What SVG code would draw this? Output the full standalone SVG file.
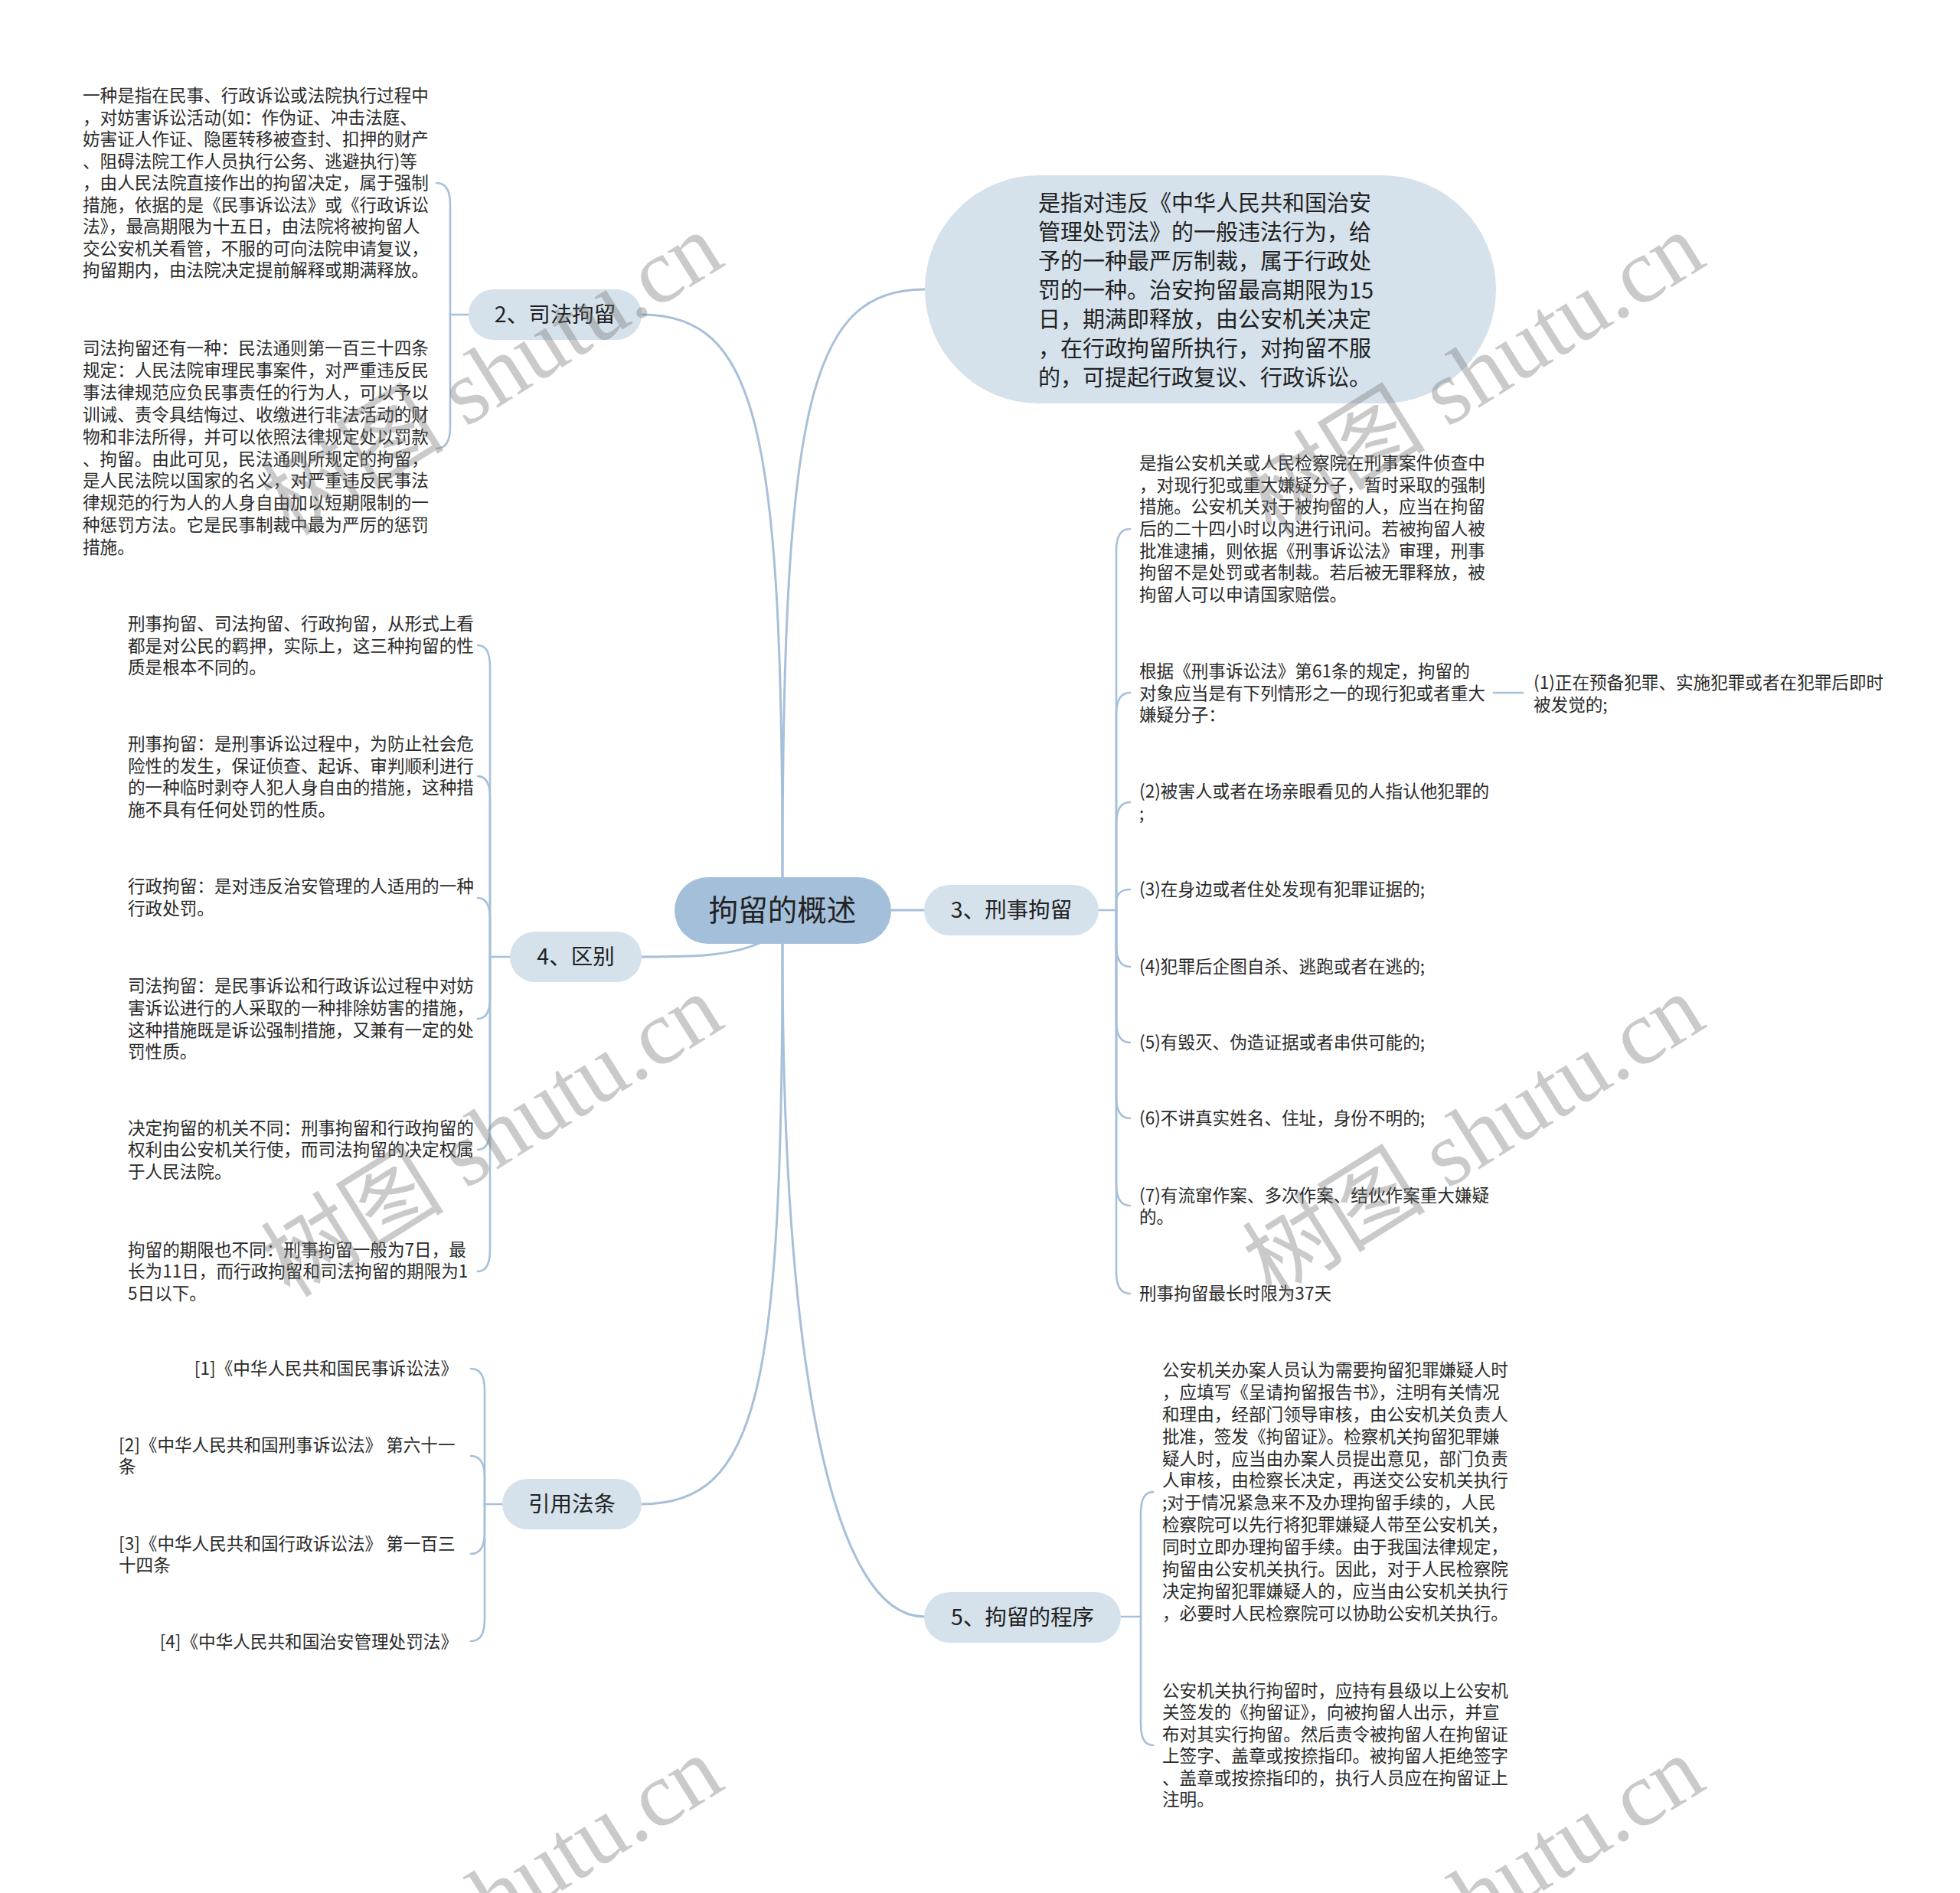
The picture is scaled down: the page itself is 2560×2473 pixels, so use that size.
<svg xmlns="http://www.w3.org/2000/svg" width="2560" height="2473" viewBox="0 0 2560 2473">
<style>
.c{fill:none;stroke:#a7c0d9;stroke-width:3;stroke-linecap:round}
.b{fill:none;stroke:#a7c0d9;stroke-width:2.6;stroke-linecap:round}
.t{font-family:"Noto Sans CJK SC","Noto Sans",sans-serif;font-size:22.6px;fill:#2a2a2a}
.n{font-family:"Noto Sans CJK SC","Noto Sans",sans-serif;font-size:28.5px;fill:#222;text-anchor:middle}
.sub{fill:#d5e1eb}
.wm{font-family:"Liberation Serif","Noto Sans CJK SC",serif;font-size:120px;fill:#777;opacity:.38;text-anchor:end}
</style>
<rect width="2560" height="2473" fill="#ffffff"/>
<g id="connectors">
<path class="c" d="M1022,1146 C1022,520 1060,378 1208,378"/>
<path class="c" d="M1022,1146 C1022,560 990,411 838,411"/>
<path class="c" d="M1164,1189 H1207"/>
<path class="c" d="M1000,1228 C960,1250 900,1250 838,1250"/>
<path class="c" d="M1022,1233 C1022,1820 990,1965 838,1965"/>
<path class="c" d="M1022,1233 C1022,1800 1090,2112 1207,2112"/>
<path class="b" d="M612,411 H588"/>
<path class="b" d="M588,411 V267 C588,249 583,239 570,239"/>
<path class="b" d="M588,411 V558 C588,576 583,586 570,586"/>
<path class="b" d="M666,1250 H640"/>
<path class="b" d="M640,1250 V871 C640,853 635,843 624,843"/>
<path class="b" d="M640,1250 V1042 C640,1024 635,1014 624,1014"/>
<path class="b" d="M640,1250 V1201 C640,1183 635,1173 624,1173"/>
<path class="b" d="M640,1250 V1303 C640,1321 635,1331 624,1331"/>
<path class="b" d="M640,1250 V1474 C640,1492 635,1502 624,1502"/>
<path class="b" d="M640,1250 V1633 C640,1651 635,1661 624,1661"/>
<path class="b" d="M656,1965 H633"/>
<path class="b" d="M633,1965 V1816 C633,1798 628,1788 615,1788"/>
<path class="b" d="M633,1965 V1930 C633,1912 628,1902 615,1902"/>
<path class="b" d="M633,1965 V2002 C633,2020 628,2030 615,2030"/>
<path class="b" d="M633,1965 V2116 C633,2134 628,2144 615,2144"/>
<path class="b" d="M1435,1189 H1458"/>
<path class="b" d="M1458,1189 V719 C1458,701 1463,691 1476,691"/>
<path class="b" d="M1458,1189 V933 C1458,915 1463,905 1476,905"/>
<path class="b" d="M1458,1189 V1076 C1458,1058 1463,1048 1476,1048"/>
<path class="b" d="M1458,1189 V1180 C1458,1168 1463,1162 1476,1162"/>
<path class="b" d="M1458,1189 V1235 C1458,1253 1463,1263 1476,1263"/>
<path class="b" d="M1458,1189 V1334 C1458,1352 1463,1362 1476,1362"/>
<path class="b" d="M1458,1189 V1433 C1458,1451 1463,1461 1476,1461"/>
<path class="b" d="M1458,1189 V1547 C1458,1565 1463,1575 1476,1575"/>
<path class="b" d="M1458,1189 V1662 C1458,1680 1463,1690 1476,1690"/>
<path class="b" d="M1951,905 H1989"/>
<path class="b" d="M1464,2112 H1490"/>
<path class="b" d="M1490,2112 V1977 C1490,1959 1495,1949 1506,1949"/>
<path class="b" d="M1490,2112 V2252 C1490,2270 1495,2280 1506,2280"/>
</g>
<g id="root">
<rect x="881" y="1146" width="283" height="87" rx="43.5" fill="#a4bfda"/>
<text class="n" x="1022" y="1203" style="font-size:38.5px">拘留的概述</text>
</g>
<g id="n1">
<rect class="sub" x="1208" y="229" width="746" height="298" rx="149"/>
<text class="t" style="font-size:29px;fill:#222">
<tspan x="1356" y="276">是指对违反《中华人民共和国治安</tspan>
<tspan x="1356" y="314">管理处罚法》的一般违法行为，给</tspan>
<tspan x="1356" y="352">予的一种最严厉制裁，属于行政处</tspan>
<tspan x="1356" y="390">罚的一种。治安拘留最高期限为15</tspan>
<tspan x="1356" y="428">日，期满即释放，由公安机关决定</tspan>
<tspan x="1356" y="466">，在行政拘留所执行，对拘留不服</tspan>
<tspan x="1356" y="504">的，可提起行政复议、行政诉讼。</tspan>
</text>
</g>
<g id="n2">
<rect class="sub" x="612" y="378" width="226" height="66" rx="33"/>
<text class="n" x="725" y="421">2、司法拘留</text>
</g>
<g id="n2a">
<text class="t">
<tspan x="108" y="133">一种是指在民事、行政诉讼或法院执行过程中</tspan>
<tspan x="108" y="161.5">，对妨害诉讼活动(如：作伪证、冲击法庭、</tspan>
<tspan x="108" y="190">妨害证人作证、隐匿转移被查封、扣押的财产</tspan>
<tspan x="108" y="218.5">、阻碍法院工作人员执行公务、逃避执行)等</tspan>
<tspan x="108" y="247">，由人民法院直接作出的拘留决定，属于强制</tspan>
<tspan x="108" y="275.5">措施，依据的是《民事诉讼法》或《行政诉讼</tspan>
<tspan x="108" y="304">法》，最高期限为十五日，由法院将被拘留人</tspan>
<tspan x="108" y="332.5">交公安机关看管，不服的可向法院申请复议，</tspan>
<tspan x="108" y="361">拘留期内，由法院决定提前解释或期满释放。</tspan>
</text>
</g>
<g id="n2b">
<text class="t">
<tspan x="108" y="463">司法拘留还有一种：民法通则第一百三十四条</tspan>
<tspan x="108" y="492">规定：人民法院审理民事案件，对严重违反民</tspan>
<tspan x="108" y="521">事法律规范应负民事责任的行为人，可以予以</tspan>
<tspan x="108" y="550">训诫、责令具结悔过、收缴进行非法活动的财</tspan>
<tspan x="108" y="579">物和非法所得，并可以依照法律规定处以罚款</tspan>
<tspan x="108" y="608">、拘留。由此可见，民法通则所规定的拘留，</tspan>
<tspan x="108" y="636">是人民法院以国家的名义，对严重违反民事法</tspan>
<tspan x="108" y="665">律规范的行为人的人身自由加以短期限制的一</tspan>
<tspan x="108" y="694">种惩罚方法。它是民事制裁中最为严厉的惩罚</tspan>
<tspan x="108" y="723">措施。</tspan>
</text>
</g>
<g id="n3">
<rect class="sub" x="1207" y="1156" width="228" height="66" rx="33"/>
<text class="n" x="1321" y="1199">3、刑事拘留</text>
</g>
<g id="n3a">
<text class="t">
<tspan x="1488" y="613">是指公安机关或人民检察院在刑事案件侦查中</tspan>
<tspan x="1488" y="642">，对现行犯或重大嫌疑分子，暂时采取的强制</tspan>
<tspan x="1488" y="670">措施。公安机关对于被拘留的人，应当在拘留</tspan>
<tspan x="1488" y="699">后的二十四小时以内进行讯问。若被拘留人被</tspan>
<tspan x="1488" y="728">批准逮捕，则依据《刑事诉讼法》审理，刑事</tspan>
<tspan x="1488" y="756">拘留不是处罚或者制裁。若后被无罪释放，被</tspan>
<tspan x="1488" y="785">拘留人可以申请国家赔偿。</tspan>
</text>
</g>
<g id="n3b">
<text class="t">
<tspan x="1488" y="885">根据《刑事诉讼法》第61条的规定，拘留的</tspan>
<tspan x="1488" y="913.5">对象应当是有下列情形之一的现行犯或者重大</tspan>
<tspan x="1488" y="942">嫌疑分子：</tspan>
</text>
</g>
<g id="n3b1">
<text class="t">
<tspan x="2003" y="900">(1)正在预备犯罪、实施犯罪或者在犯罪后即时</tspan>
<tspan x="2003" y="929">被发觉的;</tspan>
</text>
</g>
<g id="n3c">
<text class="t"><tspan x="1488" y="1042">(2)被害人或者在场亲眼看见的人指认他犯罪的</tspan><tspan x="1488" y="1071">;</tspan></text>
</g>
<g id="n3d"><text class="t" x="1488" y="1170">(3)在身边或者住处发现有犯罪证据的;</text></g>
<g id="n3e"><text class="t" x="1488" y="1271">(4)犯罪后企图自杀、逃跑或者在逃的;</text></g>
<g id="n3f"><text class="t" x="1488" y="1370">(5)有毁灭、伪造证据或者串供可能的;</text></g>
<g id="n3g"><text class="t" x="1488" y="1469">(6)不讲真实姓名、住址，身份不明的;</text></g>
<g id="n3h">
<text class="t"><tspan x="1488" y="1570">(7)有流窜作案、多次作案、结伙作案重大嫌疑</tspan><tspan x="1488" y="1598">的。</tspan></text>
</g>
<g id="n3i"><text class="t" x="1488" y="1698">刑事拘留最长时限为37天</text></g>
<g id="n4">
<rect class="sub" x="666" y="1217" width="172" height="66" rx="33"/>
<text class="n" x="752" y="1260">4、区别</text>
</g>
<g id="n4a">
<text class="t">
<tspan x="167" y="823">刑事拘留、司法拘留、行政拘留，从形式上看</tspan>
<tspan x="167" y="851.5">都是对公民的羁押，实际上，这三种拘留的性</tspan>
<tspan x="167" y="880">质是根本不同的。</tspan>
</text>
</g>
<g id="n4b">
<text class="t">
<tspan x="167" y="980">刑事拘留：是刑事诉讼过程中，为防止社会危</tspan>
<tspan x="167" y="1008.5">险性的发生，保证侦查、起诉、审判顺利进行</tspan>
<tspan x="167" y="1037">的一种临时剥夺人犯人身自由的措施，这种措</tspan>
<tspan x="167" y="1065.5">施不具有任何处罚的性质。</tspan>
</text>
</g>
<g id="n4c">
<text class="t">
<tspan x="167" y="1166">行政拘留：是对违反治安管理的人适用的一种</tspan>
<tspan x="167" y="1195">行政处罚。</tspan>
</text>
</g>
<g id="n4d">
<text class="t">
<tspan x="167" y="1296">司法拘留：是民事诉讼和行政诉讼过程中对妨</tspan>
<tspan x="167" y="1325">害诉讼进行的人采取的一种排除妨害的措施，</tspan>
<tspan x="167" y="1354">这种措施既是诉讼强制措施，又兼有一定的处</tspan>
<tspan x="167" y="1382">罚性质。</tspan>
</text>
</g>
<g id="n4e">
<text class="t">
<tspan x="167" y="1482">决定拘留的机关不同：刑事拘留和行政拘留的</tspan>
<tspan x="167" y="1510">权利由公安机关行使，而司法拘留的决定权属</tspan>
<tspan x="167" y="1539">于人民法院。</tspan>
</text>
</g>
<g id="n4f">
<text class="t">
<tspan x="167" y="1641">拘留的期限也不同：刑事拘留一般为7日，最</tspan>
<tspan x="167" y="1669">长为11日，而行政拘留和司法拘留的期限为1</tspan>
<tspan x="167" y="1698">5日以下。</tspan>
</text>
</g>
<g id="n6">
<rect class="sub" x="656" y="1932" width="182" height="66" rx="33"/>
<text class="n" x="747" y="1975">引用法条</text>
</g>
<g id="n6a"><text class="t" x="598" y="1796" text-anchor="end">[1]《中华人民共和国民事诉讼法》</text></g>
<g id="n6b"><text class="t"><tspan x="155" y="1896">[2]《中华人民共和国刑事诉讼法》 第六十一</tspan><tspan x="155" y="1924">条</tspan></text></g>
<g id="n6c"><text class="t"><tspan x="155" y="2025">[3]《中华人民共和国行政诉讼法》 第一百三</tspan><tspan x="155" y="2053">十四条</tspan></text></g>
<g id="n6d"><text class="t" x="598" y="2153" text-anchor="end">[4]《中华人民共和国治安管理处罚法》</text></g>
<g id="n5">
<rect class="sub" x="1207" y="2080" width="257" height="66" rx="33"/>
<text class="n" x="1335.5" y="2123">5、拘留的程序</text>
</g>
<g id="n5a">
<text class="t">
<tspan x="1518" y="1798">公安机关办案人员认为需要拘留犯罪嫌疑人时</tspan>
<tspan x="1518" y="1827">，应填写《呈请拘留报告书》，注明有关情况</tspan>
<tspan x="1518" y="1856">和理由，经部门领导审核，由公安机关负责人</tspan>
<tspan x="1518" y="1885">批准，签发《拘留证》。检察机关拘留犯罪嫌</tspan>
<tspan x="1518" y="1914">疑人时，应当由办案人员提出意见，部门负责</tspan>
<tspan x="1518" y="1942">人审核，由检察长决定，再送交公安机关执行</tspan>
<tspan x="1518" y="1971">;对于情况紧急来不及办理拘留手续的，人民</tspan>
<tspan x="1518" y="2000">检察院可以先行将犯罪嫌疑人带至公安机关，</tspan>
<tspan x="1518" y="2029">同时立即办理拘留手续。由于我国法律规定，</tspan>
<tspan x="1518" y="2058">拘留由公安机关执行。因此，对于人民检察院</tspan>
<tspan x="1518" y="2087">决定拘留犯罪嫌疑人的，应当由公安机关执行</tspan>
<tspan x="1518" y="2116">，必要时人民检察院可以协助公安机关执行。</tspan>
</text>
</g>
<g id="n5b">
<text class="t">
<tspan x="1518" y="2217">公安机关执行拘留时，应持有县级以上公安机</tspan>
<tspan x="1518" y="2245">关签发的《拘留证》，向被拘留人出示，并宣</tspan>
<tspan x="1518" y="2274">布对其实行拘留。然后责令被拘留人在拘留证</tspan>
<tspan x="1518" y="2302">上签字、盖章或按捺指印。被拘留人拒绝签字</tspan>
<tspan x="1518" y="2331">、盖章或按捺指印的，执行人员应在拘留证上</tspan>
<tspan x="1518" y="2359">注明。</tspan>
</text>
</g>
<g id="watermarks">
<text class="wm" transform="translate(950,345) rotate(-32)">树图 shutu.cn</text>
<text class="wm" transform="translate(2232,345) rotate(-32)">树图 shutu.cn</text>
<text class="wm" transform="translate(950,1340) rotate(-32)">树图 shutu.cn</text>
<text class="wm" transform="translate(2232,1340) rotate(-32)">树图 shutu.cn</text>
<text class="wm" transform="translate(950,2335) rotate(-32)">树图 shutu.cn</text>
<text class="wm" transform="translate(2232,2335) rotate(-32)">树图 shutu.cn</text>
</g>
</svg>
